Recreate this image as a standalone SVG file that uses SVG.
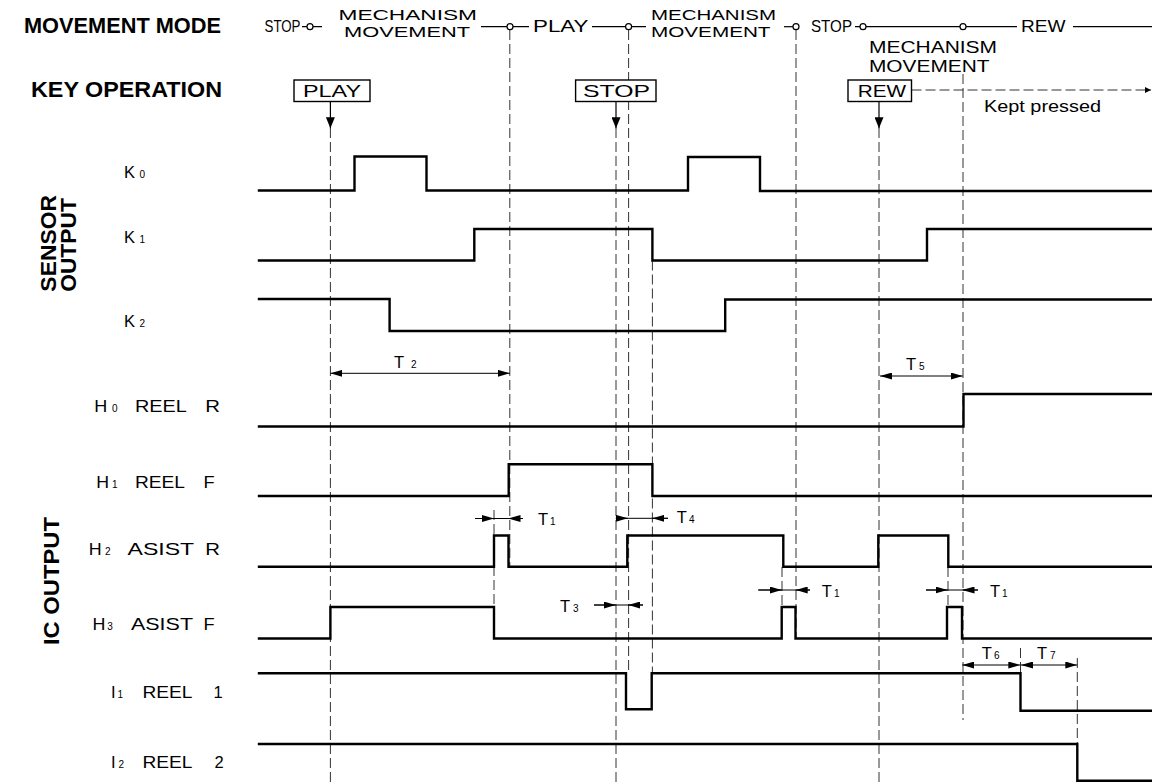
<svg xmlns="http://www.w3.org/2000/svg" width="1152" height="784" viewBox="0 0 1152 784">
<defs>
<marker id="ah" viewBox="0 0 12 7" refX="12" refY="3.5" markerWidth="12" markerHeight="7" markerUnits="userSpaceOnUse" orient="auto-start-reverse"><path d="M0,0 L12,3.5 L0,7 z" fill="#000"/></marker>
<marker id="ak" viewBox="0 0 11 9" refX="11" refY="4.5" markerWidth="11" markerHeight="9" markerUnits="userSpaceOnUse" orient="auto"><path d="M0,0 L11,4.5 L0,9 z" fill="#000"/></marker>
<marker id="as" viewBox="0 0 6 6" refX="6" refY="3" markerWidth="6" markerHeight="6" markerUnits="userSpaceOnUse" orient="auto"><path d="M0,0 L6,3 L0,6 z" fill="#000"/></marker>
</defs>
<style>
.sig{fill:none;stroke:#000;stroke-width:2.4;stroke-linejoin:miter;stroke-linecap:square}
.dash{fill:none;stroke:#333;stroke-width:1;stroke-dasharray:10 4}
.dim{fill:none;stroke:#000;stroke-width:1}
.ln{fill:none;stroke:#000;stroke-width:1.2}
.hd{font-family:"Liberation Sans",Arial,sans-serif;font-weight:bold;font-size:21.5px;fill:#000}
.vh{font-family:"Liberation Sans",Arial,sans-serif;font-weight:bold;font-size:22.8px;fill:#000;text-anchor:middle}
.lb{font-family:"Liberation Sans",Arial,sans-serif;font-size:16.5px;fill:#000}
.sb{font-family:"Liberation Sans",Arial,sans-serif;font-size:10px;fill:#000}
.tp{font-family:"Liberation Sans",Arial,sans-serif;font-size:15px;fill:#000}
.tq{font-family:"Liberation Sans",Arial,sans-serif;font-size:16.5px;fill:#000}
.box{fill:#fff;stroke:#000;stroke-width:1.4}
.circ{fill:#fff;stroke:#000;stroke-width:1.2}
</style>
<rect width="1152" height="784" fill="#fff"/>

<g id="connectors">
  <path class="dash" d="M330.4,128 V784"/>
  <path class="dash" d="M509.8,30 V567"/>
  <path class="dash" d="M494,510 V638.5"/>
  <path class="dash" d="M616,128 V784"/>
  <path class="dash" d="M628.6,30 V673"/>
  <path class="dash" d="M652.4,260.5 V673"/>
  <path class="dash" d="M796,30 V638.5"/>
  <path class="dash" d="M782,567 V607"/>
  <path class="dash" d="M879,128 V784"/>
  <path class="dash" d="M963,74 V720"/>
  <path class="dash" d="M948,567 V607"/>
  <path class="dash" d="M1020.5,648 V673"/>
  <path class="dash" d="M1077.3,658 V744"/>
  <path class="ln" d="M330.4,101.5 V128.3" marker-end="url(#ak)"/>
  <path class="ln" d="M616,101.5 V128.3" marker-end="url(#ak)"/>
  <path class="ln" d="M879,101.5 V128.3" marker-end="url(#ak)"/>
  <path class="dash" d="M911.5,90 H1151" marker-end="url(#as)"/>
  <path class="dim" d="M330.4,373.3 H509.8" marker-start="url(#ah)" marker-end="url(#ah)"/>
  <path class="dim" d="M880,376 H962.7" marker-start="url(#ah)" marker-end="url(#ah)"/>
  <path class="dim" d="M475,518.5 H523"/>
  <path class="dim" d="M475,518.5 H494" marker-end="url(#ah)"/>
  <path class="dim" d="M523,518.5 H508.5" marker-end="url(#ah)"/>
  <path class="dim" d="M616,518.3 H668"/>
  <path class="dim" d="M615.7,518.3 H627.7" marker-end="url(#ah)"/>
  <path class="dim" d="M668,518.3 H652.4" marker-end="url(#ah)"/>
  <path class="dim" d="M594,605 H643"/>
  <path class="dim" d="M594,605 H615.7" marker-end="url(#ah)"/>
  <path class="dim" d="M643,605 H628.3" marker-end="url(#ah)"/>
  <path class="dim" d="M758.3,590 H810"/>
  <path class="dim" d="M758.3,590 H781.7" marker-end="url(#ah)"/>
  <path class="dim" d="M810,590 H795.7" marker-end="url(#ah)"/>
  <path class="dim" d="M926,590 H978"/>
  <path class="dim" d="M926,590 H947.5" marker-end="url(#ah)"/>
  <path class="dim" d="M978,590 H962.5" marker-end="url(#ah)"/>
  <path class="dim" d="M962.3,665 H1020.3" marker-start="url(#ah)" marker-end="url(#ah)"/>
  <path class="dim" d="M1021,665 H1077.3" marker-start="url(#ah)" marker-end="url(#ah)"/>
</g>

<g id="dim-labels">
  <text class="lb" x="394" y="368.3">T</text><text class="sb" x="411" y="368.3">2</text>
  <text class="lb" x="906" y="370">T</text><text class="sb" x="919" y="370">5</text>
  <text class="lb" x="538" y="525">T</text><text class="sb" x="550" y="525">1</text>
  <text class="lb" x="676.7" y="523.3">T</text><text class="sb" x="689" y="523.3">4</text>
  <text class="lb" x="560" y="611.5">T</text><text class="sb" x="573" y="611.5">3</text>
  <text class="lb" x="821.7" y="596.7">T</text><text class="sb" x="834" y="596.7">1</text>
  <text class="lb" x="990" y="597">T</text><text class="sb" x="1002" y="597">1</text>
  <text class="lb" x="981.7" y="659">T</text><text class="sb" x="994" y="659">6</text>
  <text class="lb" x="1037" y="659">T</text><text class="sb" x="1050" y="659">7</text>
</g>

<g id="movement-mode">
  <text class="hd" x="24" y="33.3" textLength="197" lengthAdjust="spacingAndGlyphs">MOVEMENT MODE</text>
  <text class="tq" x="264.5" y="32.3" textLength="36" lengthAdjust="spacingAndGlyphs">STOP</text>
  <path class="ln" d="M302,26.7 H307 M313,26.7 H322"/>
  <circle class="circ" cx="310" cy="26.7" r="3"/>
  <text class="tp" x="338.5" y="19.8" textLength="138.5" lengthAdjust="spacingAndGlyphs">MECHANISM</text>
  <text class="tp" x="344" y="37" textLength="126" lengthAdjust="spacingAndGlyphs">MOVEMENT</text>
  <path class="ln" d="M481,26.7 H507 M513,26.7 H529"/>
  <circle class="circ" cx="510" cy="26.7" r="3"/>
  <text class="tq" x="533" y="32.3" textLength="55.5" lengthAdjust="spacingAndGlyphs">PLAY</text>
  <path class="ln" d="M592,26.7 H625.6 M631.6,26.7 H646"/>
  <circle class="circ" cx="628.6" cy="26.7" r="3"/>
  <text class="tp" x="651" y="19.8" textLength="125" lengthAdjust="spacingAndGlyphs">MECHANISM</text>
  <text class="tp" x="651" y="37" textLength="119.5" lengthAdjust="spacingAndGlyphs">MOVEMENT</text>
  <path class="ln" d="M784,26.7 H793"/>
  <circle class="circ" cx="796" cy="26.7" r="3"/>
  <text class="tq" x="811" y="32.3" textLength="41" lengthAdjust="spacingAndGlyphs">STOP</text>
  <path class="ln" d="M855,26.7 H860 M866,26.7 H960 M966,26.7 H1017 M1073,26.7 H1152"/>
  <circle class="circ" cx="863" cy="26.7" r="3"/>
  <circle class="circ" cx="963" cy="26.7" r="3"/>
  <text class="tq" x="1021" y="32.3" textLength="44.5" lengthAdjust="spacingAndGlyphs">REW</text>
  <text class="tq" x="869" y="53.3" textLength="128" lengthAdjust="spacingAndGlyphs">MECHANISM</text>
  <text class="tq" x="869" y="71.7" textLength="120.5" lengthAdjust="spacingAndGlyphs">MOVEMENT</text>
</g>

<g id="key-operation">
  <text class="hd" x="31" y="96.7" textLength="191" lengthAdjust="spacingAndGlyphs">KEY OPERATION</text>
  <g id="key-play">
    <rect class="box" x="294" y="80" width="76" height="21.5"/>
    <text class="lb" x="303" y="97.3" textLength="58" lengthAdjust="spacingAndGlyphs">PLAY</text>
  </g>
  <g id="key-stop">
    <rect class="box" x="575.6" y="80" width="80.4" height="21.5"/>
    <text class="lb" x="583" y="97.3" textLength="67" lengthAdjust="spacingAndGlyphs">STOP</text>
  </g>
  <g id="key-rew">
    <rect class="box" x="848" y="80" width="63.5" height="21.5"/>
    <text class="lb" x="857.7" y="97.3" textLength="48.3" lengthAdjust="spacingAndGlyphs">REW</text>
  </g>
  <text class="lb" x="984" y="112" textLength="117" lengthAdjust="spacingAndGlyphs">Kept pressed</text>
</g>

<g id="group-labels">
  <text class="vh" transform="translate(55.5,243.3) rotate(-90)" textLength="96.7" lengthAdjust="spacingAndGlyphs">SENSOR</text>
  <text class="vh" transform="translate(76,245) rotate(-90)" textLength="93.7" lengthAdjust="spacingAndGlyphs">OUTPUT</text>
  <text class="vh" transform="translate(59,581) rotate(-90)" textLength="128" lengthAdjust="spacingAndGlyphs">IC OUTPUT</text>
</g>

<g id="sig-k0">
  <text class="lb" x="124" y="178.3">K</text><text class="sb" x="139.5" y="178.3">0</text>
  <path class="sig" d="M259,190.5 H354.5 V156.5 H426.5 V190.5 H688 V157 H760 V191 H1152"/>
</g>
<g id="sig-k1">
  <text class="lb" x="124" y="243.3">K</text><text class="sb" x="139.5" y="243.3">1</text>
  <path class="sig" d="M259,260.5 H474.3 V229 H652.4 V260.5 H927 V229 H1152"/>
</g>
<g id="sig-k2">
  <text class="lb" x="124" y="326.7">K</text><text class="sb" x="139.5" y="326.7">2</text>
  <path class="sig" d="M259,299 H389.6 V331 H725.2 V299.5 H1152"/>
</g>
<g id="sig-h0">
  <text class="lb" x="94.3" y="411.7" textLength="13" lengthAdjust="spacingAndGlyphs">H</text><text class="sb" x="112" y="411.7">0</text>
  <text class="lb" x="135" y="411.7" textLength="51.8" lengthAdjust="spacingAndGlyphs">REEL</text>
  <text class="lb" x="205.3" y="411.7" textLength="14.7" lengthAdjust="spacingAndGlyphs">R</text>
  <path class="sig" d="M259,426.5 H963.5 V394 H1152"/>
</g>
<g id="sig-h1">
  <text class="lb" x="96.2" y="488.3" textLength="12.8" lengthAdjust="spacingAndGlyphs">H</text><text class="sb" x="112" y="488.3">1</text>
  <text class="lb" x="135" y="488.3" textLength="50" lengthAdjust="spacingAndGlyphs">REEL</text>
  <text class="lb" x="203.5" y="488.3" textLength="11.1" lengthAdjust="spacingAndGlyphs">F</text>
  <path class="sig" d="M259,496 H508.7 V464.3 H652.4 V496 H1152"/>
</g>
<g id="sig-h2">
  <text class="lb" x="88.8" y="555" textLength="12.9" lengthAdjust="spacingAndGlyphs">H</text><text class="sb" x="105" y="555">2</text>
  <text class="lb" x="127.6" y="555" textLength="66.6" lengthAdjust="spacingAndGlyphs">ASIST</text>
  <text class="lb" x="205.3" y="555" textLength="14.7" lengthAdjust="spacingAndGlyphs">R</text>
  <path class="sig" d="M259,566.7 H494 V535.5 H508.5 V566.7 H627.3 V535.5 H783.3 V566.7 H878.3 V535.5 H948.3 V566.7 H1152"/>
</g>
<g id="sig-h3">
  <text class="lb" x="92.5" y="630" textLength="12.9" lengthAdjust="spacingAndGlyphs">H</text><text class="sb" x="107.3" y="630">3</text>
  <text class="lb" x="131" y="630" textLength="62" lengthAdjust="spacingAndGlyphs">ASIST</text>
  <text class="lb" x="203.5" y="630" textLength="11.1" lengthAdjust="spacingAndGlyphs">F</text>
  <path class="sig" d="M259,638.5 H330.4 V607 H494 V638.5 H781.7 V607 H795.5 V638.5 H947 V607 H962 V638.5 H1152"/>
</g>
<g id="sig-i1">
  <text class="lb" x="111" y="698.3">I</text><text class="sb" x="117.6" y="698.3">1</text>
  <text class="lb" x="142.4" y="698.3" textLength="50" lengthAdjust="spacingAndGlyphs">REEL</text>
  <text class="lb" x="213.5" y="698.3">1</text>
  <path class="sig" d="M259,673.3 H626 V709.3 H651.7 V673.3 H1020.5 V710.7 H1152"/>
</g>
<g id="sig-i2">
  <text class="lb" x="111" y="768.3">I</text><text class="sb" x="118.4" y="768.3">2</text>
  <text class="lb" x="142.4" y="768.3" textLength="50" lengthAdjust="spacingAndGlyphs">REEL</text>
  <text class="lb" x="214.6" y="768.3">2</text>
  <path class="sig" d="M259,744 H1077.3 V780.7 H1152"/>
</g>
</svg>
